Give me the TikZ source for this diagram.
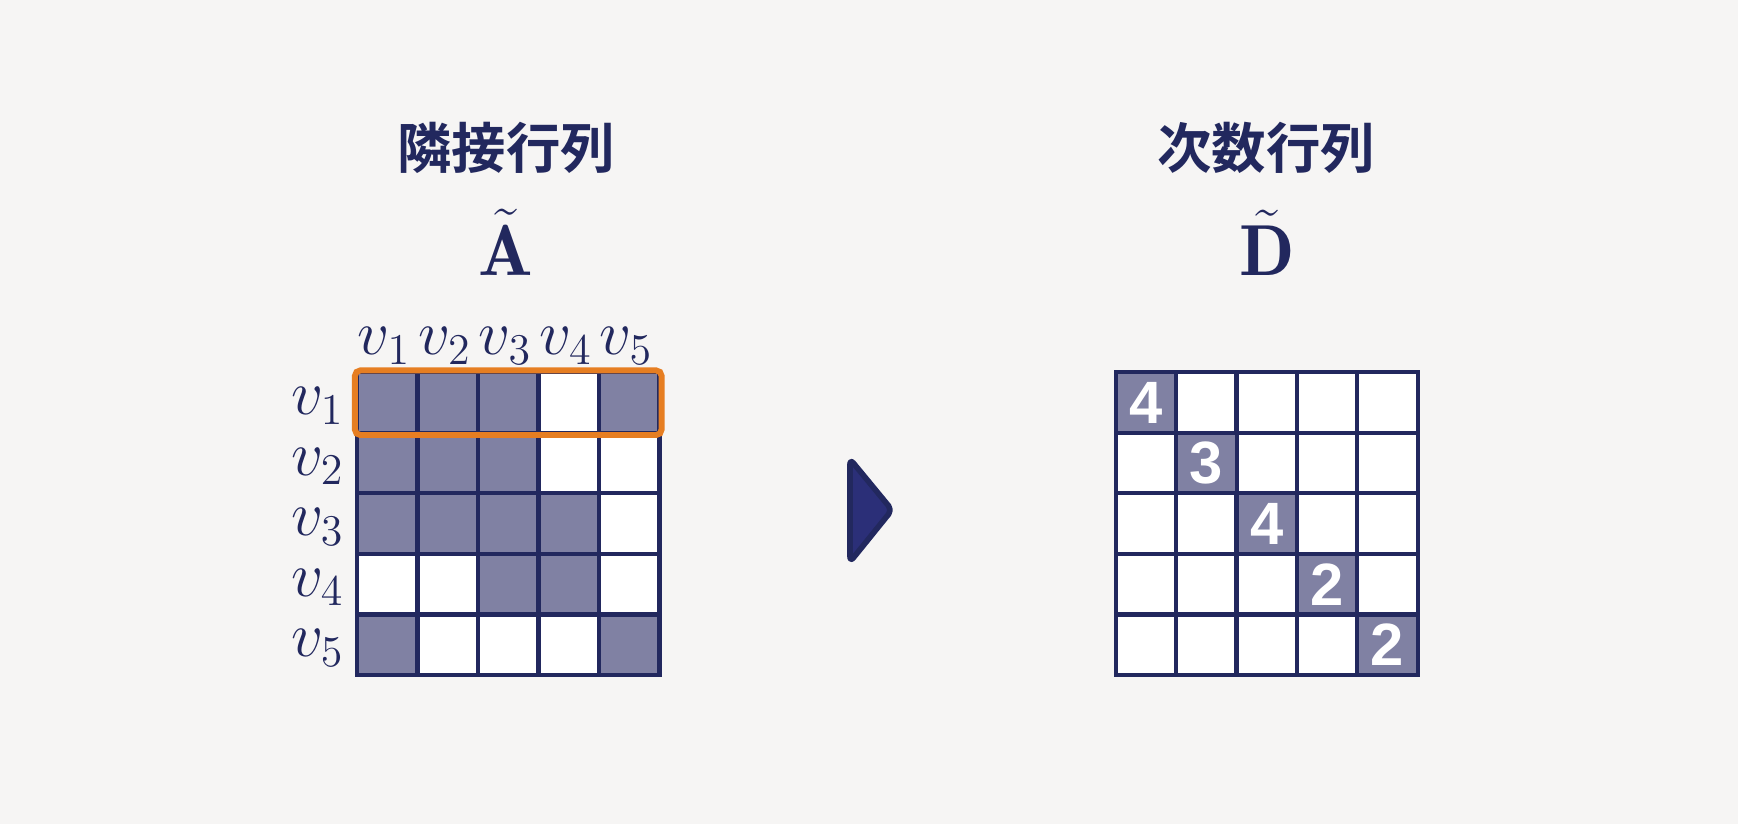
\documentclass[tikz,border=0pt]{standalone}
\usepackage{amsmath}
\usepackage{fontspec}
\usepackage{xcolor}
\usetikzlibrary{positioning, calc}
\newfontfamily\cjkfont{Noto Sans CJK JP}[BoldFont={* Bold}]
\newfontfamily\digitfont{Liberation Sans}
\definecolor{gcNavy}{RGB}{34,40,94}
\definecolor{gcArrow}{RGB}{43,47,120}
\definecolor{gcFill}{RGB}{128,129,163}
\definecolor{gcOrange}{RGB}{230,126,34}
\definecolor{gcPaper}{RGB}{246,245,244}

\begin{document}
\begin{tikzpicture}[x=1cm, y=1cm,
  cell/.style={draw=gcNavy, fill=white, line width=1.15pt,
               minimum size=6.05mm, inner sep=0pt},
  hit/.style={cell, fill=gcFill},
  vlab/.style={text=gcNavy, inner sep=0pt, font=\fontsize{17.28}{20}\selectfont,
               scale=1.04, transform shape},
  symlab/.style={text=gcNavy, inner sep=0pt, font=\fontsize{17.28}{20}\selectfont,
                 scale=1.19, transform shape},
  heading/.style={text=gcNavy, inner sep=0pt, font=\cjkfont\bfseries\fontsize{15.5}{18}\selectfont},
  degree/.style={text=white, font=\digitfont\bfseries\fontsize{17}{20}\selectfont}]
\useasboundingbox (0,0) rectangle (17.38,8.24);
\fill[gcPaper] (0,0) rectangle (17.38,8.24);

% Adjacency matrix (with self loops)
\foreach \r/\row in {1/{1,1,1,0,1}, 2/{1,1,1,0,0}, 3/{1,1,1,1,0},
                     4/{0,0,1,1,0}, 5/{1,0,0,0,1}}
{
  \foreach \v [count=\c] in \row
  {
    \ifnum\v=1
      \node[hit] (a\r\c) at ({3.57+(\c-0.5)*0.605}, {4.515-(\r-0.5)*0.605}) {};
    \else
      \node[cell] (a\r\c) at ({3.57+(\c-0.5)*0.605}, {4.515-(\r-0.5)*0.605}) {};
    \fi
  }
}
\foreach \i in {1,...,5}
{
  \node[vlab, anchor=base east] (rl\i) at ($(a\i1.west)+(-0.1,-0.12)$) {$v_{\i}$};
  \node[vlab, anchor=base] (cl\i) at ($(a1\i.north)+(-0.03,0.155)$) {$v_{\i}$};
}
\draw[gcOrange, line width=1.7pt, rounded corners=1.5pt]
  (a11.north west) rectangle (a15.south east);

% Degree matrix
\foreach \r in {1,...,5}
  \foreach \c in {1,...,5}
    \node[cell] (d\r\c) at ({11.16+(\c-0.5)*0.603}, {4.515-(\r-0.5)*0.605}) {};
\foreach \i/\deg in {1/4, 2/3, 3/4, 4/2, 5/2}
  \node[hit, degree] (d\i\i) at (d\i\i) {\deg};

% Headings
\node[heading] (tA) at (5.06,6.76) {隣接行列};
\node[heading] (tD) at (12.66,6.76) {次数行列};
\node[symlab, anchor=base] (symA) at (5.06,5.48) {$\tilde{\mathbf{A}}$};
\node[symlab, anchor=base] (symD) at (12.67,5.48) {$\tilde{\mathbf{D}}$};

% Arrow
\draw[gcNavy, fill=gcArrow, line width=1.6pt, line join=round, rounded corners=1.5pt]
  (8.5,3.65) -- (8.92,3.14) -- (8.5,2.62) -- cycle;
\end{tikzpicture}
\end{document}
